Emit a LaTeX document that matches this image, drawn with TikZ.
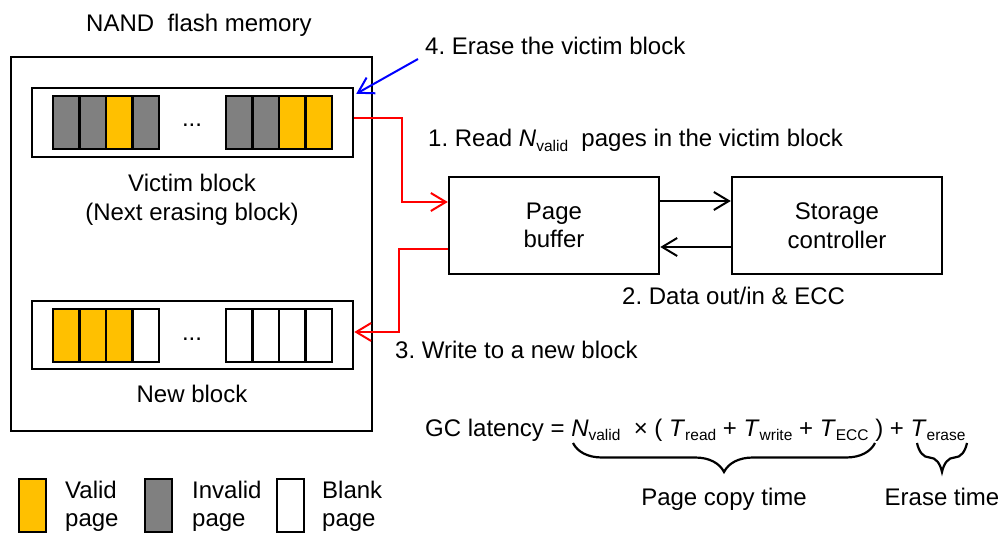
\documentclass[tikz,border=0pt]{standalone}
\usepackage{fontspec}
\setmainfont{Liberation Sans}
\usetikzlibrary{arrows.meta,decorations.pathreplacing}
\definecolor{validc}{HTML}{FFC000}
\definecolor{invalidc}{HTML}{808080}
\newcommand\lsub[1]{\raisebox{-0.35ex}{\fontsize{15.5}{15.5}\selectfont #1}}
\frenchspacing

\begin{document}
\begin{tikzpicture}[x=1pt,y=-1pt,
  font=\fontsize{24}{28.5}\selectfont,
  box/.style={draw, line width=2.5pt, inner sep=0pt},
  pagecell/.style={draw, line width=2.3pt},
  lbl/.style={inner sep=0pt, anchor=base west},
  clbl/.style={inner sep=0pt, anchor=base},
  barb/.tip={Straight Barb[length=15pt,width=18pt,line width=2pt]},
  rarr/.style={draw=red, line width=2pt, -barb},
  barr/.style={draw=black, line width=2pt, -barb},
  blarr/.style={draw=blue, line width=2pt, -barb},
  brc/.style={decorate, decoration={brace, mirror, amplitude=29pt}, line width=2.2pt}]

\useasboundingbox (0,0) rectangle (1003,534);

% memory chip and its two blocks
\node[box, minimum width=361pt, minimum height=374pt] (mem) at (191.5,244) {};
\node[lbl] (memlbl) at (86,32) {NAND~ flash memory};

\node[box, minimum width=321pt, minimum height=69pt] (vb) at (192.5,122.5) {};
\node[box, minimum width=321pt, minimum height=68pt] (nb) at (192.5,335) {};

% pages of the victim block
\foreach \c [count=\i from 0] in {invalidc,invalidc,validc,invalidc}
  \draw[pagecell, fill=\c] (53+26.5*\i,96) rectangle ++(26.5,53);
\foreach \c [count=\i from 0] in {invalidc,invalidc,validc,validc}
  \draw[pagecell, fill=\c] (226+26.5*\i,96) rectangle ++(26.5,53);
\node[clbl] (vdots) at (192,127) {...};

% pages of the new block
\foreach \c [count=\i from 0] in {validc,validc,validc,white}
  \draw[pagecell, fill=\c] (53+26.5*\i,309) rectangle ++(26.5,53);
\foreach \i in {0,1,2,3}
  \draw[pagecell, fill=white] (226+26.5*\i,309) rectangle ++(26.5,53);
\node[clbl] (ndots) at (192,340) {...};

\node[clbl] (vbl1) at (192,192) {Victim block};
\node[clbl] (vbl2) at (192,221) {(Next erasing block)};
\node[clbl] (nbl) at (192,402) {New block};

% page buffer and controller
\node[box, minimum width=210pt, minimum height=97pt, align=center] (pb) at (554,225.5) {Page\\buffer};
\node[box, minimum width=210pt, minimum height=97pt, align=center] (sc) at (837,225.5) {Storage\\controller};

\draw[barr] ([yshift=24.5pt]pb.east) -- ([yshift=24.5pt]sc.west);
\draw[barr] ([yshift=-21.5pt]sc.west) -- ([yshift=-21.5pt]pb.east);

% copy path
\draw[rarr] ([yshift=4.5pt]vb.east) -- ++(48,0) |- ([yshift=23.5pt]pb.west);
\draw[rarr] ([yshift=-23.5pt]pb.west) -- ++(-49,0) |- ([yshift=3pt]nb.east);

% erase
\coordinate (erfrom) at (418,59);
\draw[blarr] (erfrom) -- ([shift={(2pt,-7pt)}]vb.north east);

% step labels
\node[lbl] (s4) at (425,55) {4. Erase the victim block};
\node[lbl] (s1) at (428,147) {1. Read \textit{N}\lsub{valid}\ \ pages in the victim block};
\node[lbl] (s2) at (622,305) {2. Data out/in \& ECC};
\node[lbl] (s3) at (395,358) {3. Write to a new block};

% latency formula
\node[lbl] (gc) at (425,436) {GC latency = \textit{N}\lsub{valid}\ \ × ( \textit{T}\lsub{read} + \textit{T}\lsub{write} + \textit{T}\lsub{ECC} ) + \textit{T}\lsub{erase}};
\draw[brc] (573,443) -- (875,443);
\draw[brc] (917,443) -- (967,443);
\node[clbl] (pct) at (724,505) {Page copy time};
\node[clbl] (ert) at (942,505) {Erase time};

% legend
\draw[pagecell, fill=validc] (19,479) rectangle (46,532);
\draw[pagecell, fill=invalidc] (145,479) rectangle (172,532);
\draw[pagecell, fill=white] (277,479) rectangle (304,532);
\node[lbl] (lv1) at (65,498) {Valid};
\node[lbl] (lv2) at (65,526) {page};
\node[lbl] (li1) at (192,498) {Invalid};
\node[lbl] (li2) at (192,526) {page};
\node[lbl] (lb1) at (322,498) {Blank};
\node[lbl] (lb2) at (322,526) {page};
\end{tikzpicture}
\end{document}
